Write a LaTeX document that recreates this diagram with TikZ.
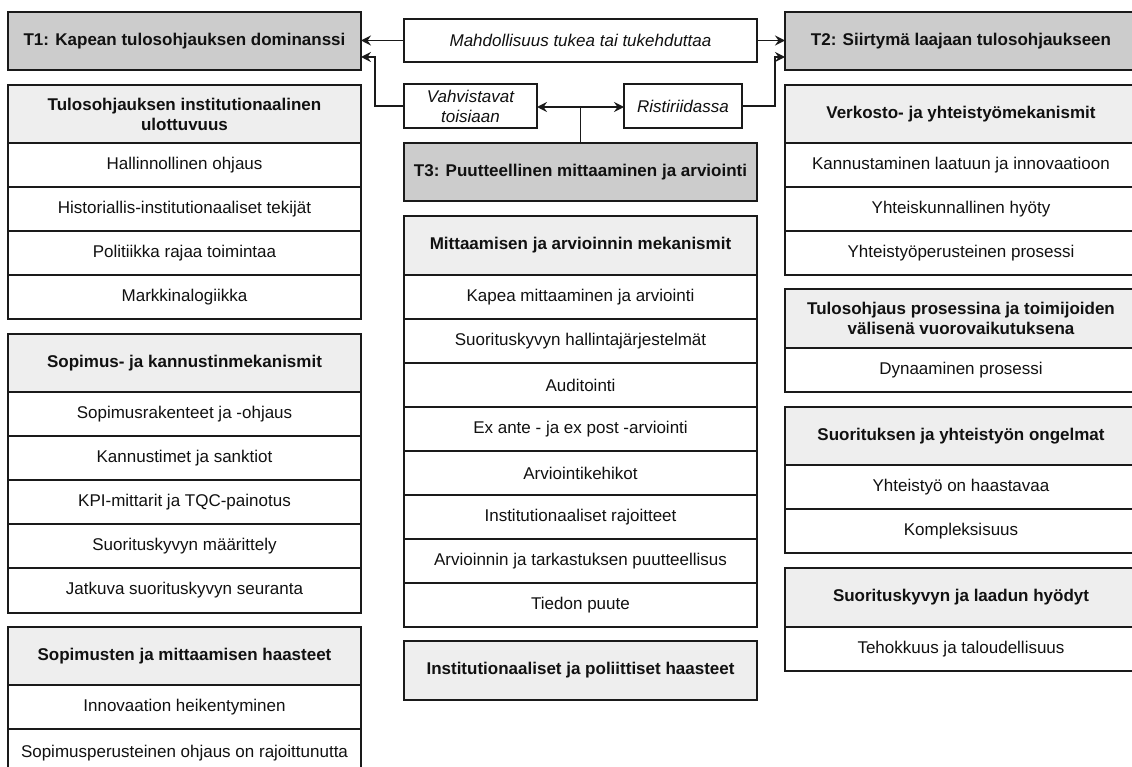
\documentclass[tikz,border=0pt]{standalone}
\usepackage{fontspec}
\setmainfont{Liberation Sans}
\usetikzlibrary{arrows.meta,calc}
\definecolor{tg}{HTML}{CCCCCC}
\definecolor{hg}{HTML}{EEEEEE}
\definecolor{ln}{HTML}{1A1A1A}
\definecolor{tx}{HTML}{111111}
\newcommand\bx[7]{\node[#1,anchor=north west,minimum width=#5pt,minimum height=#6pt] (#2) at (#3pt,-#4pt) {#7};}
\tikzset{
  base/.style={draw=ln,line width=1.7pt,outer sep=0pt,inner sep=2pt,align=center,text=tx,font=\fontsize{17}{20}\selectfont},
  tbox/.style={base,fill=tg,font=\fontsize{17}{20}\selectfont\bfseries},
  hbox/.style={base,fill=hg,font=\fontsize{17}{20}\selectfont\bfseries},
  rbox/.style={base,fill=white},
  lbox/.style={base,fill=white,font=\fontsize{17}{20}\selectfont\itshape},
  arr/.style={draw=ln,line width=1.7pt,-{Stealth[length=10pt,width=10pt,inset=3.5pt]}},
  ln/.style={draw=ln,line width=1.7pt}
}
\begin{document}
\begin{tikzpicture}[x=1pt,y=1pt]
\useasboundingbox (0,0) rectangle (1132,-767);
% left column
\bx{tbox}{t1}{8}{12}{353}{58}{T1: Kapean tulosohjauksen dominanssi}
\bx{hbox}{lh1}{8}{85}{353}{58}{Tulosohjauksen institutionaalinen\\ulottuvuus}
\bx{rbox}{l11}{8}{143}{353}{44}{Hallinnollinen ohjaus}
\bx{rbox}{l12}{8}{187}{353}{44}{Historiallis-institutionaaliset tekijät}
\bx{rbox}{l13}{8}{231}{353}{44}{Politiikka rajaa toimintaa}
\bx{rbox}{l14}{8}{275}{353}{44}{Markkinalogiikka}
\bx{hbox}{lh2}{8}{334}{353}{58}{Sopimus- ja kannustinmekanismit}
\bx{rbox}{l21}{8}{392}{353}{44}{Sopimusrakenteet ja -ohjaus}
\bx{rbox}{l22}{8}{436}{353}{44}{Kannustimet ja sanktiot}
\bx{rbox}{l23}{8}{480}{353}{44}{KPI-mittarit ja TQC-painotus}
\bx{rbox}{l24}{8}{524}{353}{44}{Suorituskyvyn määrittely}
\bx{rbox}{l25}{8}{568}{353}{45}{Jatkuva suorituskyvyn seuranta}
\bx{hbox}{lh3}{8}{627}{353}{58}{Sopimusten ja mittaamisen haasteet}
\bx{rbox}{l31}{8}{685}{353}{44}{Innovaation heikentyminen}
\node[rbox,anchor=north west,minimum width=353pt,minimum height=52pt,text depth=0pt] (l32) at (8pt,-729pt) {\raisebox{8pt}{Sopimusperusteinen ohjaus on rajoittunutta}};
% middle column
\bx{lbox}{mahd}{404}{19}{353}{43}{Mahdollisuus tukea tai tukehduttaa}
\bx{lbox}{vahv}{404}{84}{133}{44}{Vahvistavat\\toisiaan}
\bx{lbox}{rist}{624}{84}{118}{44}{Ristiriidassa}
\bx{tbox}{t3}{404}{143}{353}{58}{T3: Puutteellinen mittaaminen ja arviointi}
\bx{hbox}{mh1}{404}{216}{353}{59}{Mittaamisen ja arvioinnin mekanismit}
\bx{rbox}{m1}{404}{275}{353}{44}{Kapea mittaaminen ja arviointi}
\bx{rbox}{m2}{404}{319}{353}{44}{Suorituskyvyn hallintajärjestelmät}
\bx{rbox}{m3}{404}{363}{353}{44}{Auditointi}
\bx{rbox}{m4}{404}{407}{353}{44}{Ex ante - ja ex post -arviointi}
\bx{rbox}{m5}{404}{451}{353}{44}{Arviointikehikot}
\bx{rbox}{m6}{404}{495}{353}{44}{Institutionaaliset rajoitteet}
\bx{rbox}{m7}{404}{539}{353}{44}{Arvioinnin ja tarkastuksen puutteellisus}
\bx{rbox}{m8}{404}{583}{353}{44}{Tiedon puute}
\bx{hbox}{mh2}{404}{641}{353}{59}{Institutionaaliset ja poliittiset haasteet}
% right column (runs past the right edge of the page)
\bx{tbox}{t2}{785}{12}{360}{58}{\hspace*{-8pt}T2: Siirtymä laajaan tulosohjaukseen}
\bx{hbox}{rh1}{785}{85}{360}{58}{\hspace*{-8pt}Verkosto- ja yhteistyömekanismit}
\bx{rbox}{r11}{785}{143}{360}{44}{\hspace*{-8pt}Kannustaminen laatuun ja innovaatioon}
\bx{rbox}{r12}{785}{187}{360}{44}{\hspace*{-8pt}Yhteiskunnallinen hyöty}
\bx{rbox}{r13}{785}{231}{360}{44}{\hspace*{-8pt}Yhteistyöperusteinen prosessi}
\bx{hbox}{rh2}{785}{289}{360}{59}{\hspace*{-8pt}Tulosohjaus prosessina ja toimijoiden\\\hspace*{-8pt}välisenä vuorovaikutuksena}
\bx{rbox}{r21}{785}{348}{360}{44}{\hspace*{-8pt}Dynaaminen prosessi}
\bx{hbox}{rh3}{785}{407}{360}{58}{\hspace*{-8pt}Suorituksen ja yhteistyön ongelmat}
\bx{rbox}{r31}{785}{465}{360}{44}{\hspace*{-8pt}Yhteistyö on haastavaa}
\bx{rbox}{r32}{785}{509}{360}{44}{\hspace*{-8pt}Kompleksisuus}
\bx{hbox}{rh4}{785}{568}{360}{59}{\hspace*{-8pt}Suorituskyvyn ja laadun hyödyt}
\bx{rbox}{r41}{785}{627}{360}{44}{\hspace*{-8pt}Tehokkuus ja taloudellisuus}
% connectors
\coordinate (lk) at (375,-57);
\coordinate (rk) at (775,-57);
\coordinate (jn) at (580.5,-107);
\draw[arr] (mahd.west) -- (mahd.west -| t1.east);
\draw[arr] (mahd.east) -- (mahd.east -| t2.west);
\draw[arr] (vahv.west) -| (lk) -- (lk -| t1.east);
\draw[arr] (rist.east) -| (rk) -- (rk -| t2.west);
\draw[ln] (t3.north) -- (jn);
\draw[arr] (jn) -- (jn -| vahv.east);
\draw[arr] (jn) -- (jn -| rist.west);
\end{tikzpicture}
\end{document}
